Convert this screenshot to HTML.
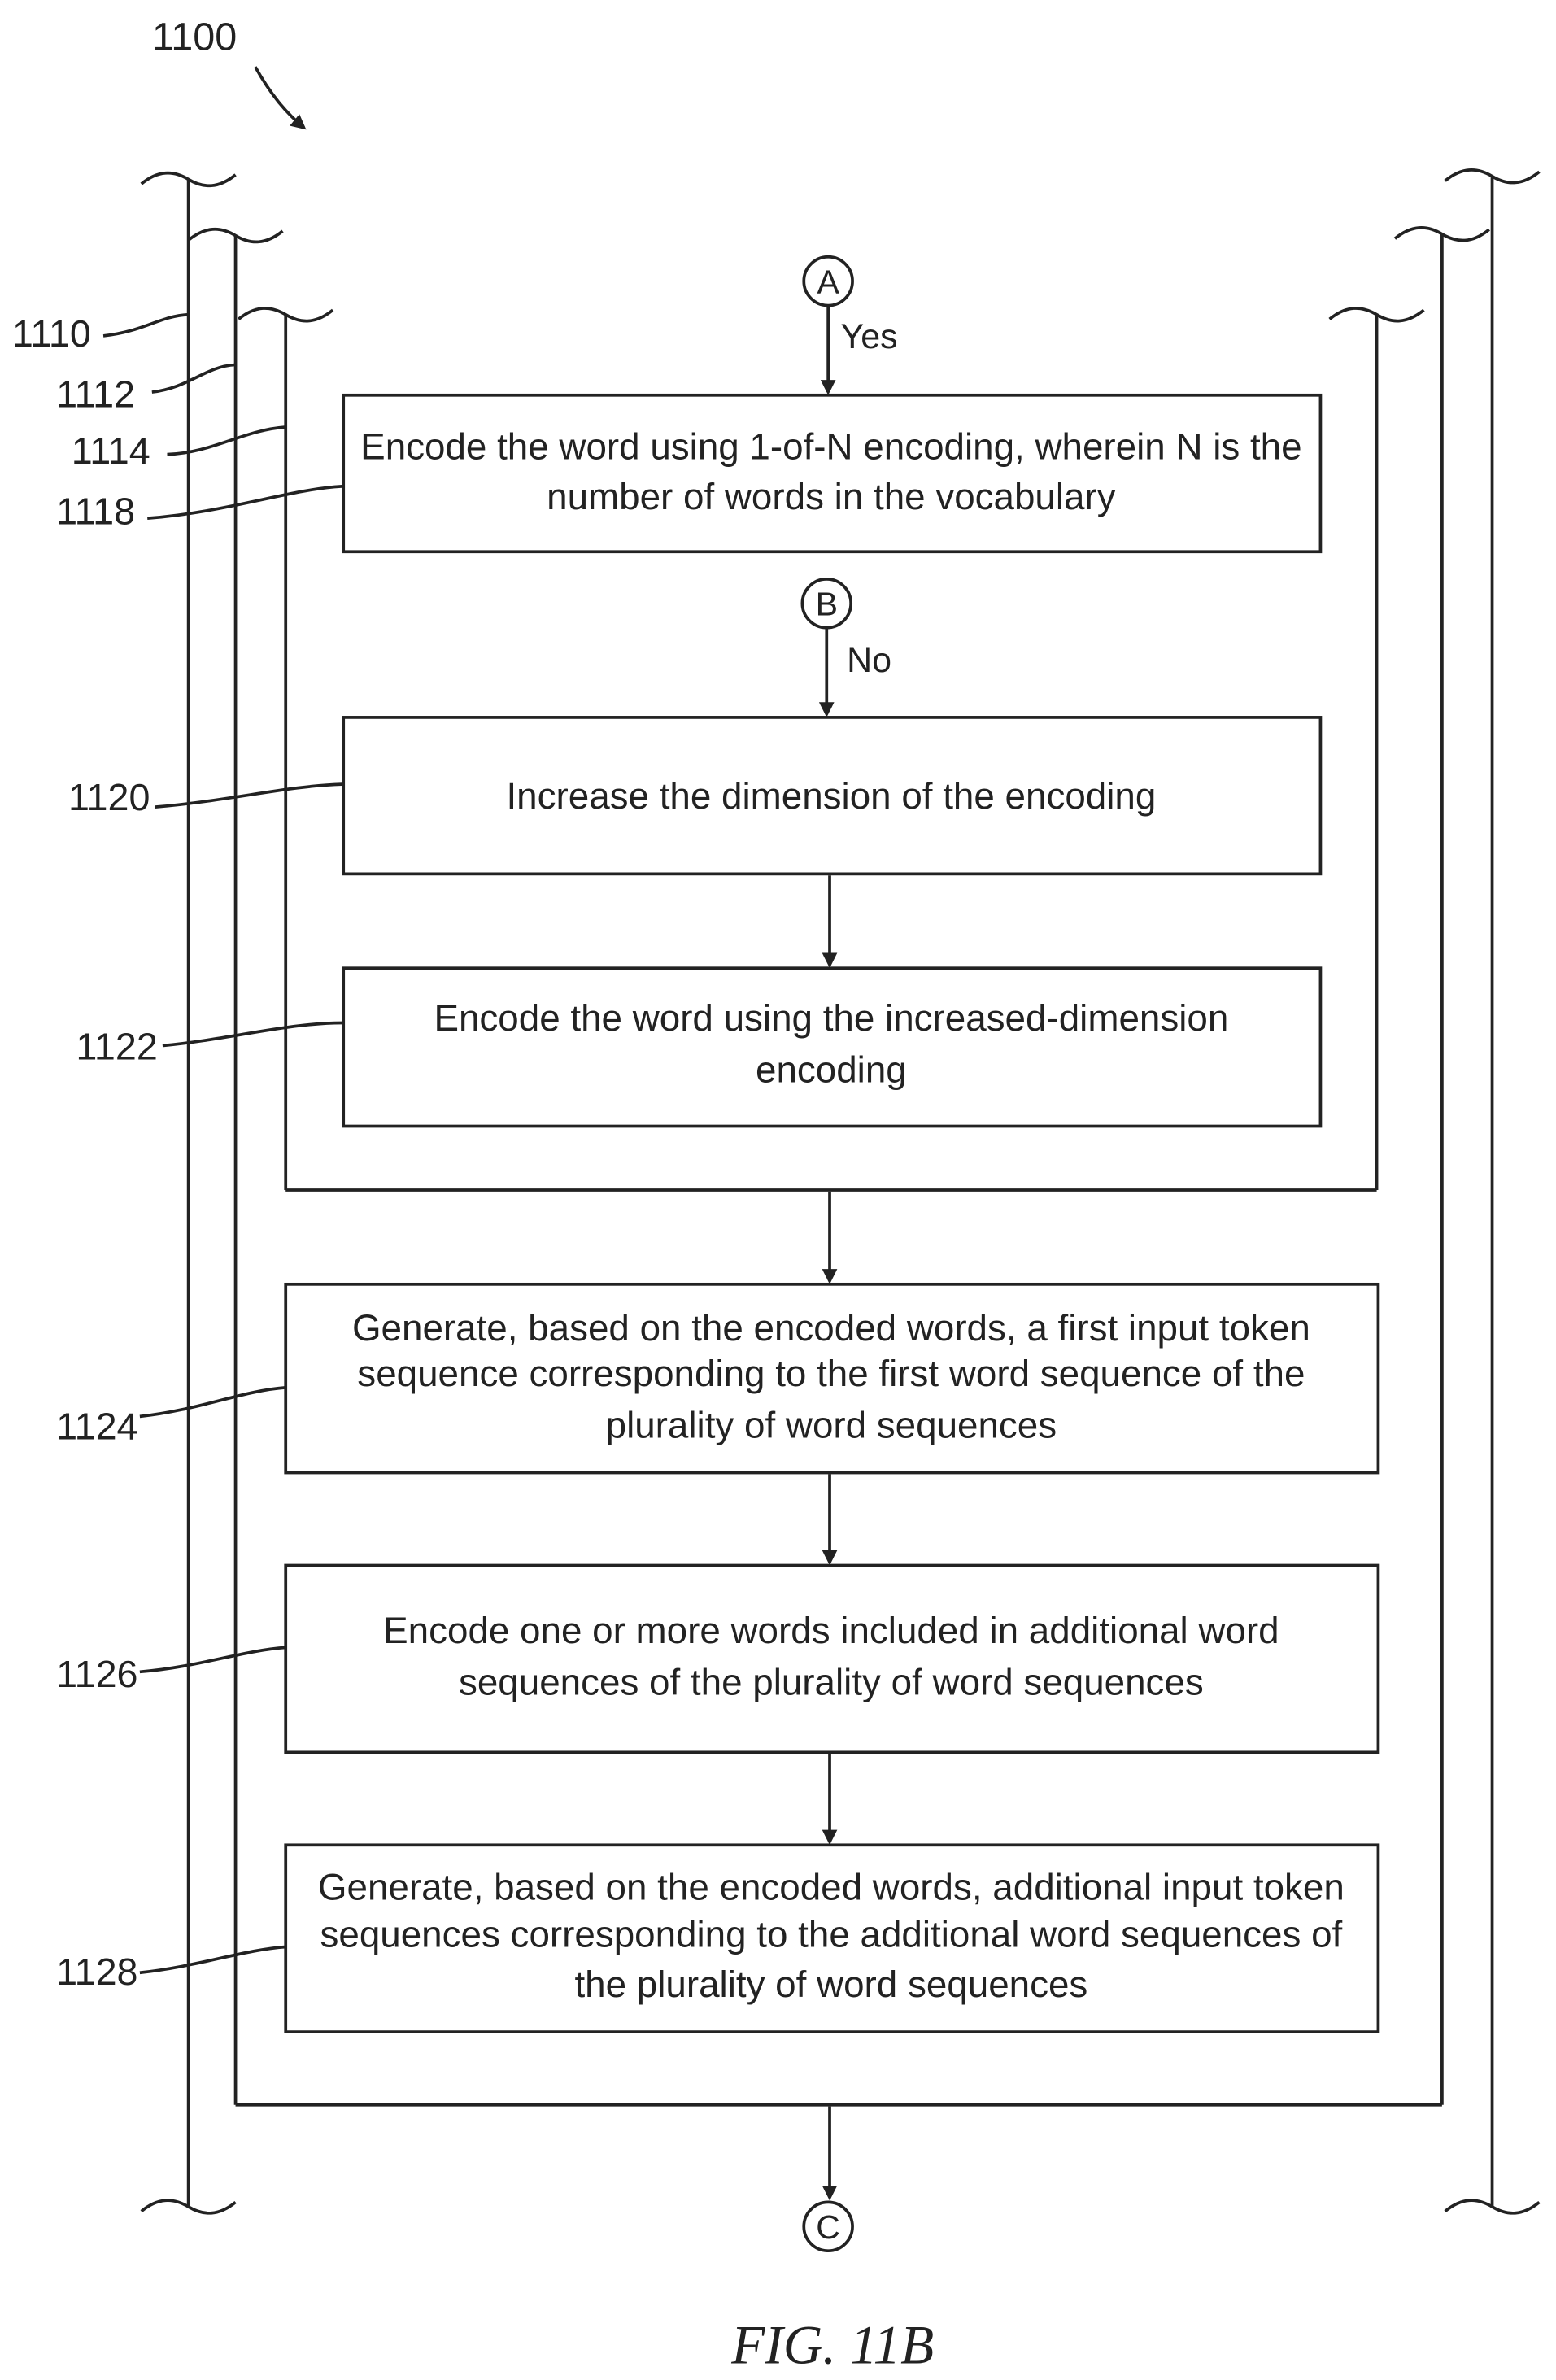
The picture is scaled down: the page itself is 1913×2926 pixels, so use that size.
<!DOCTYPE html>
<html><head><style>html,body{margin:0;padding:0;background:#fff}svg{display:block}</style></head><body>
<svg width="1913" height="2926" viewBox="0 0 1024 1566" preserveAspectRatio="none" xmlns="http://www.w3.org/2000/svg" font-family="Liberation Sans, sans-serif" fill="none" stroke="#222" stroke-width="2">
<defs><marker id="ah" markerWidth="10" markerHeight="10" refX="8" refY="5" orient="auto" markerUnits="userSpaceOnUse"><path d="M0,0 L10,5 L0,10 z" fill="#222" stroke="none"/></marker></defs>
<text x="100" y="33" font-size="26" fill="#222" stroke="none">1100</text>
<path d="M168,44 C178,62 188,74 200,84" marker-end="url(#ah)"/>
<path d="M93,121 C104,112 114,112 124,118 S144,124 155,115"/>
<path d="M124,158 C135,149 145,149 155,155 S175,161 186,152"/>
<path d="M157,210 C168,201 178,201 188,207 S208,213 219,204"/>
<path d="M875,210 C886,201 896,201 906,207 S926,213 937,204"/>
<path d="M918,157 C929,148 939,148 949,154 S969,160 980,151"/>
<path d="M951,119 C962,110 972,110 982,116 S1002,122 1013,113"/>
<line x1="124" y1="118" x2="124" y2="1452"/>
<line x1="155" y1="155" x2="155" y2="1385"/>
<line x1="188" y1="207" x2="188" y2="783"/>
<line x1="906" y1="207" x2="906" y2="783"/>
<line x1="949" y1="154" x2="949" y2="1385"/>
<line x1="982" y1="116" x2="982" y2="1452"/>
<line x1="188" y1="783" x2="906" y2="783"/>
<line x1="155" y1="1385" x2="949" y2="1385"/>
<path d="M93,1455 C104,1446 114,1446 124,1452 S144,1458 155,1449"/>
<path d="M951,1455 C962,1446 972,1446 982,1452 S1002,1458 1013,1449"/>
<g font-size="25" fill="#222" stroke="none">
<text x="8" y="228">1110</text>
<text x="37" y="268">1112</text>
<text x="47" y="305">1114</text>
<text x="37" y="345">1118</text>
<text x="45" y="533">1120</text>
<text x="50" y="697">1122</text>
<text x="37" y="947">1124</text>
<text x="37" y="1110">1126</text>
<text x="37" y="1306">1128</text>
</g>
<path d="M68,221 C95,218 105,208 124,207"/>
<path d="M100,258 C125,255 135,241 155,240"/>
<path d="M110,299 C140,298 160,283 188,281"/>
<path d="M97,341 C150,337 190,322 225,320"/>
<path d="M102,531 C150,527 190,517 225,516"/>
<path d="M107,688 C150,684 190,673 225,673"/>
<path d="M92,932 C130,928 160,915 188,913"/>
<path d="M92,1100 C130,1097 160,1086 188,1084"/>
<path d="M92,1298 C130,1294 160,1283 188,1281"/>
<g fill="#222" stroke="none" font-size="24.5" text-anchor="middle">
<text x="545" y="193" font-size="22">A</text>
<text x="572" y="229" font-size="23">Yes</text>
<text x="547" y="302">Encode the word using 1-of-N encoding, wherein N is the</text>
<text x="547" y="335">number of words in the vocabulary</text>
<text x="544" y="405" font-size="22">B</text>
<text x="572" y="442" font-size="23">No</text>
<text x="547" y="532">Increase the dimension of the encoding</text>
<text x="547" y="678">Encode the word using the increased-dimension</text>
<text x="547" y="712">encoding</text>
<text x="547" y="882">Generate, based on the encoded words, a first input token</text>
<text x="547" y="912">sequence corresponding to the first word sequence of the</text>
<text x="547" y="946">plurality of word sequences</text>
<text x="547" y="1081">Encode one or more words included in additional word</text>
<text x="547" y="1115">sequences of the plurality of word sequences</text>
<text x="547" y="1250">Generate, based on the encoded words, additional input token</text>
<text x="547" y="1281">sequences corresponding to the additional word sequences of</text>
<text x="547" y="1314">the plurality of word sequences</text>
<text x="545" y="1473" font-size="22">C</text>
<text x="548" y="1555" font-size="36" font-style="italic" font-family="Liberation Serif, serif">FIG. 11B</text>
</g>
<circle cx="545" cy="185" r="16"/>
<line x1="545" y1="201" x2="545" y2="258" marker-end="url(#ah)"/>
<rect x="226" y="260" width="643" height="103"/>
<circle cx="544" cy="397" r="16"/>
<line x1="544" y1="413" x2="544" y2="470" marker-end="url(#ah)"/>
<rect x="226" y="472" width="643" height="103"/>
<line x1="546" y1="576" x2="546" y2="635" marker-end="url(#ah)"/>
<rect x="226" y="637" width="643" height="104"/>
<line x1="546" y1="784" x2="546" y2="843" marker-end="url(#ah)"/>
<rect x="188" y="845" width="719" height="124"/>
<line x1="546" y1="970" x2="546" y2="1028" marker-end="url(#ah)"/>
<rect x="188" y="1030" width="719" height="123"/>
<line x1="546" y1="1154" x2="546" y2="1212" marker-end="url(#ah)"/>
<rect x="188" y="1214" width="719" height="123"/>
<line x1="546" y1="1386" x2="546" y2="1446" marker-end="url(#ah)"/>
<circle cx="545" cy="1465" r="16"/>
</svg>
</body></html>
